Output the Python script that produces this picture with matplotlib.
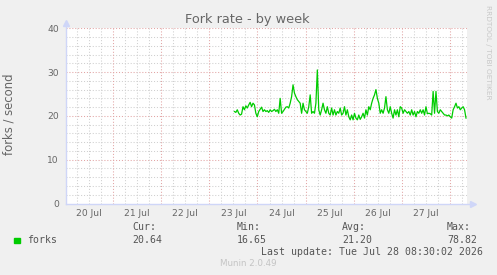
import matplotlib

matplotlib.use("Agg")
import matplotlib.pyplot as plt
import numpy as np
import pandas as pd

# fork rate samples (forks / second), 23 Jul 12:30 -> 28 Jul 08:00
forks = [
    21.0, 20.8, 21.4, 20.6, 20.2, 20.4, 22.1, 21.4, 22.3, 21.8,
    22.5, 23.1, 22.1, 22.9, 22.5, 20.6, 19.8, 21.0, 21.5, 22.0,
    21.0, 21.4, 21.0, 21.2, 20.8, 21.4, 21.0, 21.2, 21.5, 21.0,
    21.4, 20.6, 24.0, 20.6, 21.0, 21.5, 22.0, 22.1, 21.8, 22.9,
    24.4, 27.1, 25.2, 24.4, 23.7, 23.3, 22.9, 20.6, 22.9, 21.4,
    21.0, 20.6, 22.1, 24.8, 20.6, 21.0, 20.6, 22.9, 30.5, 21.4,
    20.2, 21.4, 22.9, 21.4, 20.6, 22.1, 20.6, 20.2, 21.8, 20.2,
    21.4, 20.2, 21.0, 20.6, 21.8, 20.2, 20.6, 22.1, 20.2, 21.4,
    19.8, 19.1, 20.2, 19.1, 20.6, 19.5, 19.1, 20.2, 19.2, 19.8,
    20.6, 19.5, 21.4, 20.2, 22.1, 21.4, 22.9, 24.0, 24.8, 26.0,
    24.0, 22.9, 20.6, 21.4, 20.6, 21.8, 24.4, 21.4, 20.6, 22.1,
    20.6, 19.5, 21.4, 20.2, 21.4, 19.8, 22.1, 21.8, 20.6, 21.4,
    21.0, 20.6, 21.0, 20.2, 21.4, 20.2, 21.0, 19.8, 21.0, 20.6,
    21.4, 20.6, 21.4, 20.2, 22.1, 20.5, 20.6, 20.5, 20.2, 25.6,
    20.6, 25.6, 21.0, 20.6, 21.4, 21.0, 20.6, 20.2, 20.2, 20.0,
    20.2, 19.8, 19.5, 21.4, 22.1, 22.9, 21.8, 22.1, 21.4, 21.8,
    22.1, 21.4, 19.5,
]
sample_start = "2026-07-23 12:30"
sample_end = "2026-07-28 08:00"
view_start = "2026-07-20 00:30"
view_end = "2026-07-28 08:30"
day_labels = ["20 Jul", "21 Jul", "22 Jul", "23 Jul", "24 Jul", "25 Jul", "26 Jul", "27 Jul"]
y_ticks = [0, 10, 20, 30, 40]
stats_heads = ["Cur:", "Min:", "Avg:", "Max:"]
stats_vals = ["20.64", "16.65", "21.20", "78.82"]

W, H = 497, 275
BACK = "#F0F0F0"
FONT = "#666666"
AXIS = "#CFD6F8"
MGRID = "#E2A4A4"
GRID = "#CFCFCF"
GREEN = "#00CC00"


def fx(x):
    return x / W


def fy(y):
    return 1 - y / H


times = pd.date_range(sample_start, sample_end, periods=len(forks))
x0, x1 = pd.Timestamp(view_start), pd.Timestamp(view_end)

fig = plt.figure(figsize=(W / 100, H / 100), dpi=100, facecolor=BACK)
ax = fig.add_axes([fx(66), fy(203.5), (467 - 66) / W, (203.5 - 28.3) / H])
ax.set_facecolor("white")
for s in ax.spines.values():
    s.set_visible(False)

ax.set_xlim(x0, x1)
ax.set_ylim(0, 40)

# grid
dot = (0, (1, 1.8))
for v in np.arange(2, 41, 2):
    c = MGRID if v % 10 == 0 else GRID
    ax.axhline(v, color=c, lw=0.75, ls=dot, zorder=1)
for t in pd.date_range("2026-07-20 06:00", "2026-07-28 06:00", freq="6h"):
    c = MGRID if t.hour == 0 else GRID
    ax.axvline(t, color=c, lw=0.75, ls=dot, zorder=1)

ax.plot(times, forks, color=GREEN, lw=0.9, zorder=3)

# axes with arrows
ax.plot([0, 1.016], [0, 0], transform=ax.transAxes, color=AXIS, lw=1, clip_on=False, zorder=4)
ax.plot([0, 0], [0, 1.03], transform=ax.transAxes, color=AXIS, lw=1, clip_on=False, zorder=4)
ax.plot([1.016], [0], transform=ax.transAxes, marker=">", ms=4.5, color=AXIS, clip_on=False, zorder=4)
ax.plot([0], [1.03], transform=ax.transAxes, marker="^", ms=4.5, color=AXIS, clip_on=False, zorder=4)

ax.set_yticks(y_ticks)
ax.set_yticklabels([str(v) for v in y_ticks])
noons = pd.date_range("2026-07-20 12:00", periods=len(day_labels), freq="D")
ax.set_xticks(noons)
ax.set_xticklabels(day_labels)
ax.tick_params(axis="both", length=0, labelsize=6.6, colors=FONT)
ax.tick_params(axis="y", pad=5)
ax.tick_params(axis="x", pad=4)

ax.set_ylabel("forks / second", fontsize=8.4, color=FONT)
ax.yaxis.set_label_coords(-(66 - 15.5) / 401, (203.5 - 114) / 175.2)

fig.text(fx(247.5), fy(19), "Fork rate - by week", fontsize=9.3, color=FONT,
         ha="center", va="center")
fig.text(fx(488), fy(5), "RRDTOOL / TOBI OETIKER", fontsize=5.3, color="#C8C8C8",
         rotation=270, ha="center", va="top")

# legend block
mono = "DejaVu Sans Mono"
col_x = [132, 237, 342, 447]
for cx, head, val in zip(col_x, stats_heads, stats_vals):
    fig.text(fx(cx), fy(227.5), head, family=mono, fontsize=7.1, color="#555555",
             ha="left", va="center")
    fig.text(fx(cx), fy(240), val, family=mono, fontsize=7.1, color="#555555",
             ha="left", va="center")
fig.patches.append(plt.Rectangle((fx(14), fy(242.7)), 6 / W, 5 / H, color=GREEN,
                                 transform=fig.transFigure, figure=fig))
fig.text(fx(27), fy(240), "forks", family=mono, fontsize=7.1, color="#555555",
         ha="left", va="center")
fig.text(fx(483), fy(252), "Last update: Tue Jul 28 08:30:02 2026", family=mono,
         fontsize=7.1, color="#555555", ha="right", va="center")
fig.text(fx(248.5), fy(264), "Munin 2.0.49", fontsize=6.3, color="#C4C4C4",
         ha="center", va="center")

fig.savefig("out.png", dpi=100, facecolor=BACK)
